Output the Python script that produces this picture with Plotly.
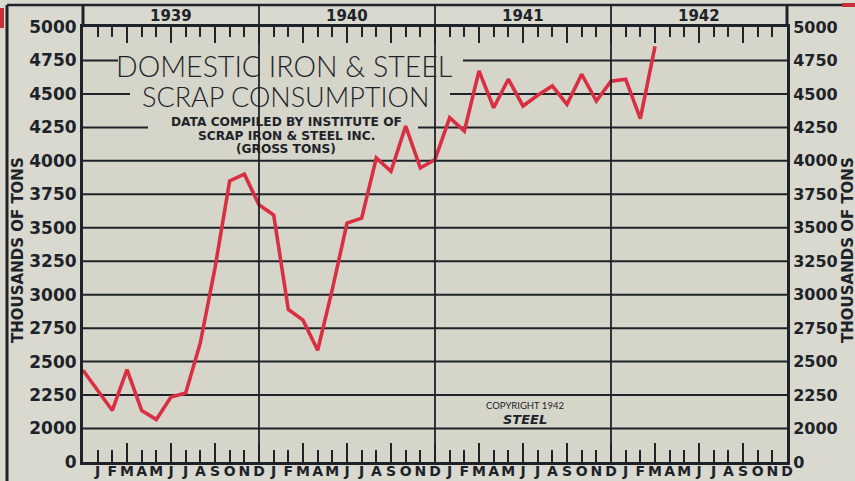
import plotly.graph_objects as go

# ---------------- data ----------------
PERIODS = [
    "Dec 1938",
    "Jan 1939", "Feb 1939", "Mar 1939", "Apr 1939", "May 1939", "Jun 1939",
    "Jul 1939", "Aug 1939", "Sep 1939", "Oct 1939", "Nov 1939", "Dec 1939",
    "Jan 1940", "Feb 1940", "Mar 1940", "Apr 1940", "May 1940", "Jun 1940",
    "Jul 1940", "Aug 1940", "Sep 1940", "Oct 1940", "Nov 1940", "Dec 1940",
    "Jan 1941", "Feb 1941", "Mar 1941", "Apr 1941", "May 1941", "Jun 1941",
    "Jul 1941", "Aug 1941", "Sep 1941", "Oct 1941", "Nov 1941", "Dec 1941",
    "Jan 1942", "Feb 1942", "Mar 1942",
]
CONSUMPTION = [  # thousands of gross tons
    2435,
    2280, 2135, 2440, 2135, 2067, 2235,
    2265, 2640, 3200, 3850, 3900, 3672,
    3595, 2890, 2810, 2585, 3040, 3535,
    3572, 4022, 3922, 4260, 3947, 4010,
    4322, 4222, 4672, 4397, 4610, 4410,
    4490, 4560, 4422, 4647, 4447, 4595,
    4610, 4315, 4855,
]
YEARS = ["1939", "1940", "1941", "1942"]
MONTH_LETTERS = ["J", "F", "M", "A", "M", "J", "J", "A", "S", "O", "N", "D"]
Y_TICKS = [1750, 2000, 2250, 2500, 2750, 3000, 3250, 3500, 3750, 4000, 4250, 4500, 4750, 5000]
Y_TICK_TEXT = ["0", "2000", "2250", "2500", "2750", "3000", "3250", "3500", "3750",
               "4000", "4250", "4500", "4750", "5000"]

# ---------------- styling ----------------
INK = "#1e2329"
RED = "#d92f43"
PAPER = "#d9d9cf"
PLOTBG = "#d5d5ca"
LBL = dict(family="DejaVu Sans", size=17, color=INK, weight="bold")
LBL_R = dict(family="DejaVu Sans", size=16, color=INK, weight="bold")

W, H = 855, 481
L, R, T, B = 83, 787, 27, 462


def px_x(px):
    return (px - L) / (R - L)


def px_y(py):
    return (B - py) / (B - T)


n_months = len(YEARS) * 12
month_pos = list(range(1, n_months + 1))
month_text = MONTH_LETTERS * len(YEARS)
quarter_pos = [p for p in month_pos if p % 3 == 0]
x_vals = list(range(len(PERIODS)))

fig = go.Figure()
fig.add_trace(go.Scatter(x=x_vals, y=CONSUMPTION, mode="lines",
                         line=dict(color=RED, width=3.6), showlegend=False,
                         hoverinfo="skip"))
for xa, ya in [("x2", "y"), ("x3", "y"), ("x4", "y"), ("x", "y2")]:
    fig.add_trace(go.Scatter(x=[None], y=[None], xaxis=xa, yaxis=ya,
                             showlegend=False, hoverinfo="skip"))

shapes = []
# horizontal grid lines (some interrupted by the title block)
grid_segments = {
    4250: [(L, 148), (418, R)],
    4500: [(L, 130), (450, R)],
    4750: [(L, 118), (463, R)],
}
for v in Y_TICKS[1:-1]:
    segs = grid_segments.get(v, [(L, R)])
    for a, b in segs:
        shapes.append(dict(type="line", xref="paper", yref="y",
                           x0=px_x(a), x1=px_x(b), y0=v, y1=v,
                           line=dict(color=INK, width=2), layer="below"))
# year separators
band_top = px_y(5)
for k in range(1, len(YEARS)):
    shapes.append(dict(type="line", xref="x", yref="paper", x0=12 * k, x1=12 * k,
                       y0=0, y1=band_top, line=dict(color=INK, width=1.8)))
# year band border
shapes.append(dict(type="line", xref="paper", yref="paper", x0=px_x(7), x1=px_x(842),
                   y0=band_top, y1=band_top, line=dict(color=INK, width=2.5)))
shapes.append(dict(type="line", xref="paper", yref="paper", x0=0, x1=0,
                   y0=1, y1=band_top, line=dict(color=INK, width=3)))
shapes.append(dict(type="line", xref="paper", yref="paper", x0=1, x1=1,
                   y0=1, y1=band_top, line=dict(color=INK, width=3)))
# outer frame on the left
shapes.append(dict(type="line", xref="paper", yref="paper", x0=px_x(7), x1=px_x(7),
                   y0=band_top, y1=px_y(481), line=dict(color=INK, width=3)))
# red page-edge remnants
shapes.append(dict(type="rect", xref="paper", yref="paper", x0=px_x(0), x1=px_x(4),
                   y0=px_y(8), y1=px_y(28), fillcolor="#c8303c", line=dict(width=0)))
shapes.append(dict(type="rect", xref="paper", yref="paper", x0=px_x(842), x1=px_x(855),
                   y0=px_y(3), y1=px_y(7), fillcolor="#c8303c", line=dict(width=0)))

CENTER = dict(xanchor="center", yanchor="middle", showarrow=False)
ann = []
for i, yr in enumerate(YEARS):
    ann.append(dict(x=12 * i + 6, y=px_y(16), xref="x", yref="paper", text=yr, **CENTER,
                    font=dict(family="DejaVu Sans", size=15, color=INK, weight="bold")))
ann.append(dict(x=px_x(284), y=px_y(66), xref="paper", yref="paper",
                text="DOMESTIC IRON &amp; STEEL", **CENTER,
                font=dict(family="Lato", size=28.5, color=INK, weight=300)))
ann.append(dict(x=px_x(285), y=px_y(96), xref="paper", yref="paper",
                text="SCRAP CONSUMPTION", **CENTER,
                font=dict(family="Lato", size=27, color=INK, weight=300)))
sub_font = dict(family="DejaVu Sans", size=12.2, color=INK, weight="bold")
for txt, py in [("DATA COMPILED BY INSTITUTE OF", 121.5),
                ("SCRAP IRON &amp; STEEL INC.", 135.5),
                ("(GROSS TONS)", 149)]:
    ann.append(dict(x=px_x(286), y=px_y(py), xref="paper", yref="paper", text=txt,
                    font=sub_font, **CENTER))
ann.append(dict(x=px_x(525), y=px_y(405), xref="paper", yref="paper",
                text="COPYRIGHT 1942", **CENTER,
                font=dict(family="Lato", size=9.5, color=INK)))
ann.append(dict(x=px_x(525), y=px_y(419), xref="paper", yref="paper",
                text="<i>STEEL</i>", **CENTER,
                font=dict(family="DejaVu Sans", size=13, color=INK, weight="bold")))
ax_font = dict(family="DejaVu Sans", size=15, color=INK, weight="bold")
ann.append(dict(x=px_x(18), y=px_y(250), xref="paper", yref="paper",
                text="THOUSANDS OF TONS", textangle=-90, font=ax_font, **CENTER))
ann.append(dict(x=px_x(848), y=px_y(250), xref="paper", yref="paper",
                text="THOUSANDS OF TONS", textangle=-90, font=ax_font, **CENTER))

common_x = dict(range=[0, n_months], showgrid=False, zeroline=False, fixedrange=True,
                automargin=False)
fig.update_layout(
    width=W, height=H, autosize=False,
    margin=dict(l=L, r=W - R, t=T, b=H - B, pad=0),
    paper_bgcolor=PAPER, plot_bgcolor=PLOTBG,
    showlegend=False,
    xaxis=dict(**common_x, tickmode="array", tickvals=month_pos, ticktext=month_text,
               ticks="inside", ticklen=12, tickwidth=2, tickcolor=INK,
               showline=True, linewidth=3, linecolor=INK, ticklabelstandoff=-6,
               tickfont=dict(family="DejaVu Sans", size=14, color=INK, weight="bold")),
    xaxis2=dict(**common_x, overlaying="x", side="bottom", anchor="y",
                tickmode="array", tickvals=quarter_pos, ticks="inside", ticklen=19,
                tickwidth=2, tickcolor=INK, showticklabels=False, showline=False),
    xaxis3=dict(**common_x, overlaying="x", side="top", anchor="y",
                tickmode="array", tickvals=month_pos, ticks="inside", ticklen=10,
                tickwidth=2, tickcolor=INK, showticklabels=False,
                showline=True, linewidth=2.5, linecolor=INK),
    xaxis4=dict(**common_x, overlaying="x", side="top", anchor="y",
                tickmode="array", tickvals=quarter_pos, ticks="inside", ticklen=16,
                tickwidth=2, tickcolor=INK, showticklabels=False, showline=False),
    yaxis=dict(range=[1750, 5000], tickmode="array", tickvals=Y_TICKS, ticktext=Y_TICK_TEXT,
               ticks="", showgrid=False, zeroline=False, showline=True, linewidth=3,
               linecolor=INK, tickfont=LBL, fixedrange=True, automargin=False),
    yaxis2=dict(range=[1750, 5000], overlaying="y", side="right", anchor="x",
                tickmode="array", tickvals=Y_TICKS, ticktext=Y_TICK_TEXT,
                ticks="", showgrid=False, zeroline=False, showline=True, linewidth=3,
                linecolor=INK, tickfont=LBL_R, fixedrange=True, automargin=False),
    shapes=shapes,
    annotations=ann,
)

fig.write_html(
    "out.html",
    config={"displayModeBar": False},
    post_script="document.body.style.margin='0';document.body.style.overflow='hidden';",
)
